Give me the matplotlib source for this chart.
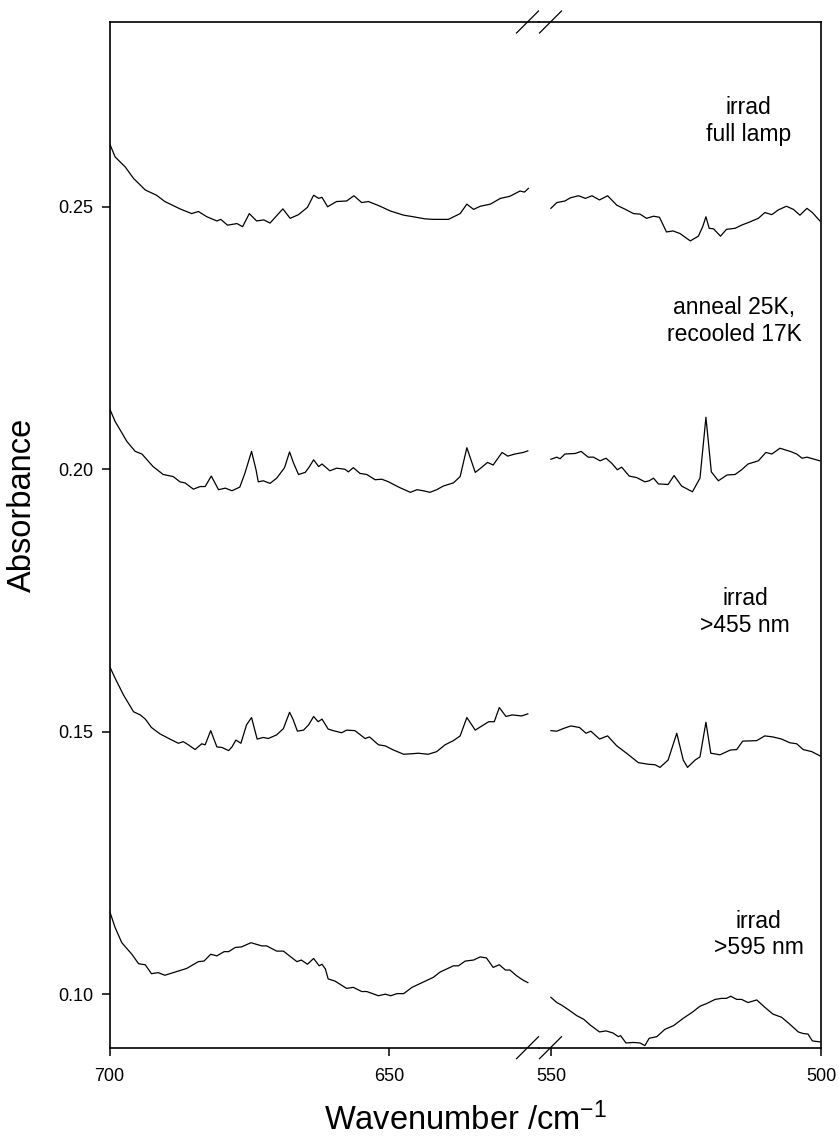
import numpy as np
import matplotlib.pyplot as plt
from matplotlib.lines import Line2D

plt.rcParams['font.family'] = ['Liberation Sans', 'DejaVu Sans']
plt.rcParams['mathtext.fontset'] = 'custom'
plt.rcParams['mathtext.rm'] = 'Liberation Sans'
plt.rcParams['mathtext.it'] = 'Liberation Sans:italic'

# ---- data: two segments per spectrum (700-625 and 550-500 cm-1) ----
full_wn_hi = [700, 699.0, 697.2, 695.7, 693.6, 691.6, 690.1, 687.4, 685.3, 684.1, 682.6, 680.8, 680.1, 678.9,
              677.2, 676.2, 675.0, 673.7, 672.4, 671.3, 669.0, 667.7, 666.2, 664.6, 663.5, 662.6, 662.0, 661.0,
              659.4, 657.6, 656.3, 654.9, 653.7, 651.6, 649.8, 647.4, 645.7, 643.6, 642.1, 639.4, 637.3, 636.1,
              634.9, 633.7, 631.9, 630.1, 628.4, 626.6, 625.8, 625.1]
full_abs_hi = [0.2621, 0.2595, 0.2576, 0.2554, 0.2532, 0.2522, 0.2510, 0.2496, 0.2487, 0.2491, 0.2481, 0.2473,
               0.2476, 0.2465, 0.2468, 0.2462, 0.2487, 0.2473, 0.2475, 0.2469, 0.2496, 0.2478, 0.2485, 0.2499,
               0.2522, 0.2516, 0.2518, 0.2500, 0.2510, 0.2511, 0.2521, 0.2508, 0.2510, 0.2501, 0.2492, 0.2484,
               0.2481, 0.2477, 0.2476, 0.2476, 0.2487, 0.2505, 0.2495, 0.2501, 0.2505, 0.2516, 0.2520, 0.2530,
               0.2528, 0.2535]
full_wn_lo = [550.0, 548.9, 547.4, 546.4, 544.9, 543.6, 542.4, 541.0, 539.5, 537.8, 536.2, 534.7, 533.5, 532.3,
              531.0, 529.9, 528.6, 527.4, 526.1, 524.2, 522.7, 521.9, 521.3, 520.7, 519.9, 518.6, 517.5, 515.9,
              514.7, 513.2, 511.6, 510.4, 509.1, 507.9, 506.4, 505.1, 503.9, 502.6, 501.6, 500.2]
full_abs_lo = [0.2497, 0.2508, 0.2511, 0.2517, 0.2521, 0.2516, 0.2521, 0.2513, 0.2521, 0.2503, 0.2495, 0.2487,
               0.2486, 0.2478, 0.2482, 0.2480, 0.2452, 0.2454, 0.2449, 0.2435, 0.2444, 0.2462, 0.2481, 0.2459,
               0.2458, 0.2444, 0.2457, 0.2459, 0.2465, 0.2471, 0.2478, 0.2489, 0.2485, 0.2494, 0.2501, 0.2495,
               0.2484, 0.2497, 0.2489, 0.2473]

anneal_wn_hi = [700, 699.0, 698.1, 696.9, 695.4, 694.2, 692.2, 690.4, 688.6, 687.4, 686.5, 685.0, 683.8, 682.9,
                681.8, 680.5, 679.3, 678.1, 676.7, 675.8, 674.6, 673.8, 673.4, 672.5, 671.3, 670.1, 668.7, 667.8,
                667.1, 666.2, 665.0, 664.3, 663.5, 662.6, 662.0, 660.6, 659.4, 657.9, 657.3, 656.4, 655.2, 654.0,
                652.5, 651.3, 650.1, 648.3, 646.2, 645.0, 643.9, 642.7, 641.5, 640.3, 638.5, 637.3, 636.1, 634.6,
                633.4, 632.4, 631.4, 629.8, 628.8, 627.5, 626.0, 625.2]
anneal_abs_hi = [0.2116, 0.2091, 0.2075, 0.2053, 0.2034, 0.2029, 0.2005, 0.1990, 0.1986, 0.1976, 0.1974, 0.1962,
                 0.1967, 0.1967, 0.1987, 0.1961, 0.1964, 0.1959, 0.1966, 0.1992, 0.2034, 0.1999, 0.1976, 0.1978,
                 0.1973, 0.1983, 0.2003, 0.2033, 0.2012, 0.1990, 0.1994, 0.2004, 0.2018, 0.2005, 0.2010, 0.1997,
                 0.2002, 0.2000, 0.1995, 0.2003, 0.1992, 0.1990, 0.1980, 0.1981, 0.1976, 0.1966, 0.1956, 0.1961,
                 0.1959, 0.1956, 0.1961, 0.1968, 0.1974, 0.1986, 0.2041, 0.1994, 0.2004, 0.2013, 0.2008, 0.2032,
                 0.2025, 0.2029, 0.2032, 0.2035]
anneal_wn_lo = [550.0, 548.9, 548.3, 547.4, 545.5, 544.4, 543.1, 542.1, 540.9, 539.8, 538.7, 537.7, 536.9, 535.5,
                534.1, 532.6, 531.8, 531.0, 530.1, 528.3, 527.2, 525.8, 523.8, 522.4, 521.3, 520.3, 519.0, 517.4,
                515.9, 514.7, 513.5, 511.6, 510.2, 509.1, 507.6, 505.7, 504.5, 503.5, 502.6, 500.2]
anneal_abs_lo = [0.2019, 0.2023, 0.2020, 0.2029, 0.2030, 0.2034, 0.2023, 0.2023, 0.2016, 0.2021, 0.2011, 0.1999,
                 0.2004, 0.1987, 0.1984, 0.1976, 0.1978, 0.1983, 0.1972, 0.1971, 0.1988, 0.1968, 0.1957, 0.1983,
                 0.2099, 0.1995, 0.1978, 0.1989, 0.1990, 0.1999, 0.2010, 0.2016, 0.2032, 0.2029, 0.2040, 0.2034,
                 0.2029, 0.2021, 0.2023, 0.2016]

nm455_wn_hi = [700, 699.0, 697.5, 695.7, 694.5, 693.6, 692.5, 691.0, 689.2, 687.7, 686.8, 685.9, 684.7, 683.5,
               682.9, 681.9, 680.8, 679.9, 678.7, 678.1, 677.4, 676.5, 675.5, 674.6, 673.6, 672.5, 671.6, 670.1,
               668.9, 667.8, 667.2, 666.4, 665.3, 664.4, 663.5, 662.7, 662.0, 660.9, 660.0, 658.5, 657.6, 656.1,
               654.3, 653.5, 651.9, 650.7, 649.2, 647.4, 645.9, 644.8, 643.0, 641.5, 640.0, 638.5, 637.3, 636.1,
               634.6, 633.4, 632.2, 631.2, 630.3, 629.1, 628.0, 626.3, 625.2]
nm455_abs_hi = [0.1625, 0.1602, 0.1570, 0.1538, 0.1532, 0.1524, 0.1508, 0.1496, 0.1486, 0.1478, 0.1481, 0.1475,
                0.1466, 0.1477, 0.1475, 0.1502, 0.1471, 0.1470, 0.1464, 0.1471, 0.1484, 0.1478, 0.1513, 0.1527,
                0.1486, 0.1489, 0.1487, 0.1494, 0.1506, 0.1537, 0.1524, 0.1501, 0.1503, 0.1513, 0.1529, 0.1519,
                0.1524, 0.1505, 0.1502, 0.1498, 0.1503, 0.1502, 0.1487, 0.1490, 0.1475, 0.1473, 0.1465, 0.1457,
                0.1458, 0.1459, 0.1457, 0.1462, 0.1475, 0.1483, 0.1492, 0.1527, 0.1503, 0.1511, 0.1519, 0.1519,
                0.1546, 0.1529, 0.1532, 0.1530, 0.1534]
nm455_wn_lo = [550.0, 548.9, 547.7, 546.3, 544.7, 543.5, 542.6, 541.0, 539.5, 537.8, 536.0, 533.8, 532.0, 530.7,
               529.8, 528.3, 526.7, 525.5, 524.7, 523.3, 522.4, 521.3, 520.4, 518.7, 516.8, 515.6, 514.5, 511.9,
               510.4, 508.9, 507.3, 505.8, 504.5, 503.3, 501.7, 500.2]
nm455_abs_lo = [0.1502, 0.1501, 0.1506, 0.1511, 0.1508, 0.1497, 0.1501, 0.1486, 0.1492, 0.1473, 0.1459, 0.1441,
                0.1438, 0.1437, 0.1432, 0.1446, 0.1497, 0.1446, 0.1432, 0.1446, 0.1452, 0.1518, 0.1459, 0.1456,
                0.1465, 0.1466, 0.1482, 0.1483, 0.1492, 0.1490, 0.1486, 0.1479, 0.1477, 0.1466, 0.1462, 0.1454]

nm595_wn_hi = [700, 699.0, 697.8, 696.0, 694.8, 693.6, 692.5, 691.3, 690.1, 688.3, 686.2, 684.1, 683.1, 681.9,
               680.8, 679.5, 678.7, 677.5, 676.4, 674.7, 672.8, 671.9, 670.1, 668.9, 667.7, 666.5, 665.7, 664.6,
               663.5, 662.5, 662.0, 661.4, 660.9, 659.7, 657.6, 656.4, 654.9, 654.0, 651.9, 650.7, 649.7, 648.6,
               647.4, 645.9, 643.9, 642.1, 640.9, 638.5, 637.6, 636.4, 634.9, 633.7, 632.6, 631.4, 630.3, 629.2,
               628.4, 627.2, 626.1, 625.2]
nm595_abs_hi = [0.1159, 0.1127, 0.1098, 0.1076, 0.1058, 0.1056, 0.1039, 0.1041, 0.1036, 0.1042, 0.1049, 0.1062,
                0.1063, 0.1076, 0.1073, 0.1081, 0.1081, 0.1089, 0.1090, 0.1098, 0.1092, 0.1092, 0.1082, 0.1082,
                0.1072, 0.1062, 0.1065, 0.1057, 0.1068, 0.1054, 0.1057, 0.1048, 0.1029, 0.1025, 0.1011, 0.1013,
                0.1005, 0.1005, 0.0997, 0.1000, 0.0997, 0.1001, 0.1001, 0.1013, 0.1023, 0.1032, 0.1042, 0.1054,
                0.1054, 0.1063, 0.1065, 0.1071, 0.1069, 0.1051, 0.1056, 0.1046, 0.1046, 0.1035, 0.1027, 0.1022]
nm595_wn_lo = [550.0, 548.9, 548.0, 546.7, 545.2, 543.9, 542.7, 541.0, 539.8, 538.5, 537.5, 537.1, 536.1, 534.7,
               533.5, 532.6, 531.8, 530.4, 528.9, 527.3, 525.5, 523.9, 522.4, 521.2, 519.6, 518.4, 517.5, 516.7,
               515.6, 514.7, 513.5, 511.9, 510.4, 508.9, 507.3, 505.8, 504.2, 503.3, 502.4, 501.6, 500.2]
nm595_abs_lo = [0.0994, 0.0984, 0.0979, 0.0970, 0.0959, 0.0952, 0.0941, 0.0928, 0.0930, 0.0926, 0.0919, 0.0921,
                0.0907, 0.0908, 0.0907, 0.0902, 0.0916, 0.0919, 0.0933, 0.0940, 0.0954, 0.0965, 0.0977, 0.0982,
                0.0990, 0.0992, 0.0992, 0.0996, 0.0990, 0.0990, 0.0984, 0.0989, 0.0975, 0.0962, 0.0956, 0.0943,
                0.0928, 0.0925, 0.0924, 0.0911, 0.0909]

labels = ['irrad\nfull lamp', 'anneal 25K,\nrecooled 17K', 'irrad\n>455 nm', 'irrad\n>595 nm']
label_wn = [513.4, 516.1, 514.0, 511.5]
label_abs = [0.2663, 0.2282, 0.1728, 0.1114]

yticks = [0.10, 0.15, 0.20, 0.25]

# ---- figure in pixel terms ----
W, H = 839, 1137
fig = plt.figure(figsize=(W / 100, H / 100), dpi=100)

x_left, x_break, x_right = 109.5, 539, 821
y_top, y_bot = 22, 1047.7
ax_h = (y_bot - y_top) / H

ax_hi = fig.add_axes([x_left / W, 1 - y_bot / H, (x_break - x_left) / W, ax_h])
ax_lo = fig.add_axes([x_break / W, 1 - y_bot / H, (x_right - x_break) / W, ax_h], sharey=ax_hi)

spectra = [(full_wn_hi, full_abs_hi, full_wn_lo, full_abs_lo),
           (anneal_wn_hi, anneal_abs_hi, anneal_wn_lo, anneal_abs_lo),
           (nm455_wn_hi, nm455_abs_hi, nm455_wn_lo, nm455_abs_lo),
           (nm595_wn_hi, nm595_abs_hi, nm595_wn_lo, nm595_abs_lo)]
for wn_hi, a_hi, wn_lo, a_lo in spectra:
    ax_hi.plot(wn_hi, a_hi, color='black', lw=0.9)
    ax_lo.plot(wn_lo, a_lo, color='black', lw=0.9)

ax_hi.set_xlim(700, 623.2)
ax_lo.set_xlim(552.2, 500)
ax_hi.set_ylim(0.0898, 0.2852)

ax_hi.set_xticks([700, 650])
ax_lo.set_xticks([550, 500])
ax_hi.set_yticks(yticks)
ax_hi.yaxis.set_major_formatter('{x:.2f}')

for ax in (ax_hi, ax_lo):
    for s in ax.spines.values():
        s.set_linewidth(1.2)
    ax.tick_params(direction='out', length=5.8, width=1.1, labelsize=13)
    ax.tick_params(axis='x', pad=9)
    ax.tick_params(axis='y', pad=6)
ax_hi.spines['right'].set_visible(False)
ax_lo.spines['left'].set_visible(False)
ax_lo.tick_params(axis='y', left=False, labelleft=False)

for txt, xw, ya in zip(labels, label_wn, label_abs):
    ax_lo.text(xw, ya, txt, ha='center', va='center', multialignment='center', fontsize=16.5)

# axis break marks on top and bottom spines
for yc in (y_top, y_bot):
    for xc in (x_break - 11.5, x_break + 11.5):
        fig.add_artist(Line2D([(xc - 11) / W, (xc + 11) / W], [1 - (yc + 11) / H, 1 - (yc - 11) / H],
                              color='black', lw=0.9, transform=fig.transFigure))

fig.text((x_left + x_right) / 2 / W, 1 - 1130 / H, 'Wavenumber /cm$^{-1}$', ha='center', va='baseline',
         fontsize=23.5)
fig.text(22 / W, 1 - 505 / H, 'Absorbance', rotation=90, ha='center', va='center', fontsize=23.5)

fig.savefig('out.png', dpi=100)
